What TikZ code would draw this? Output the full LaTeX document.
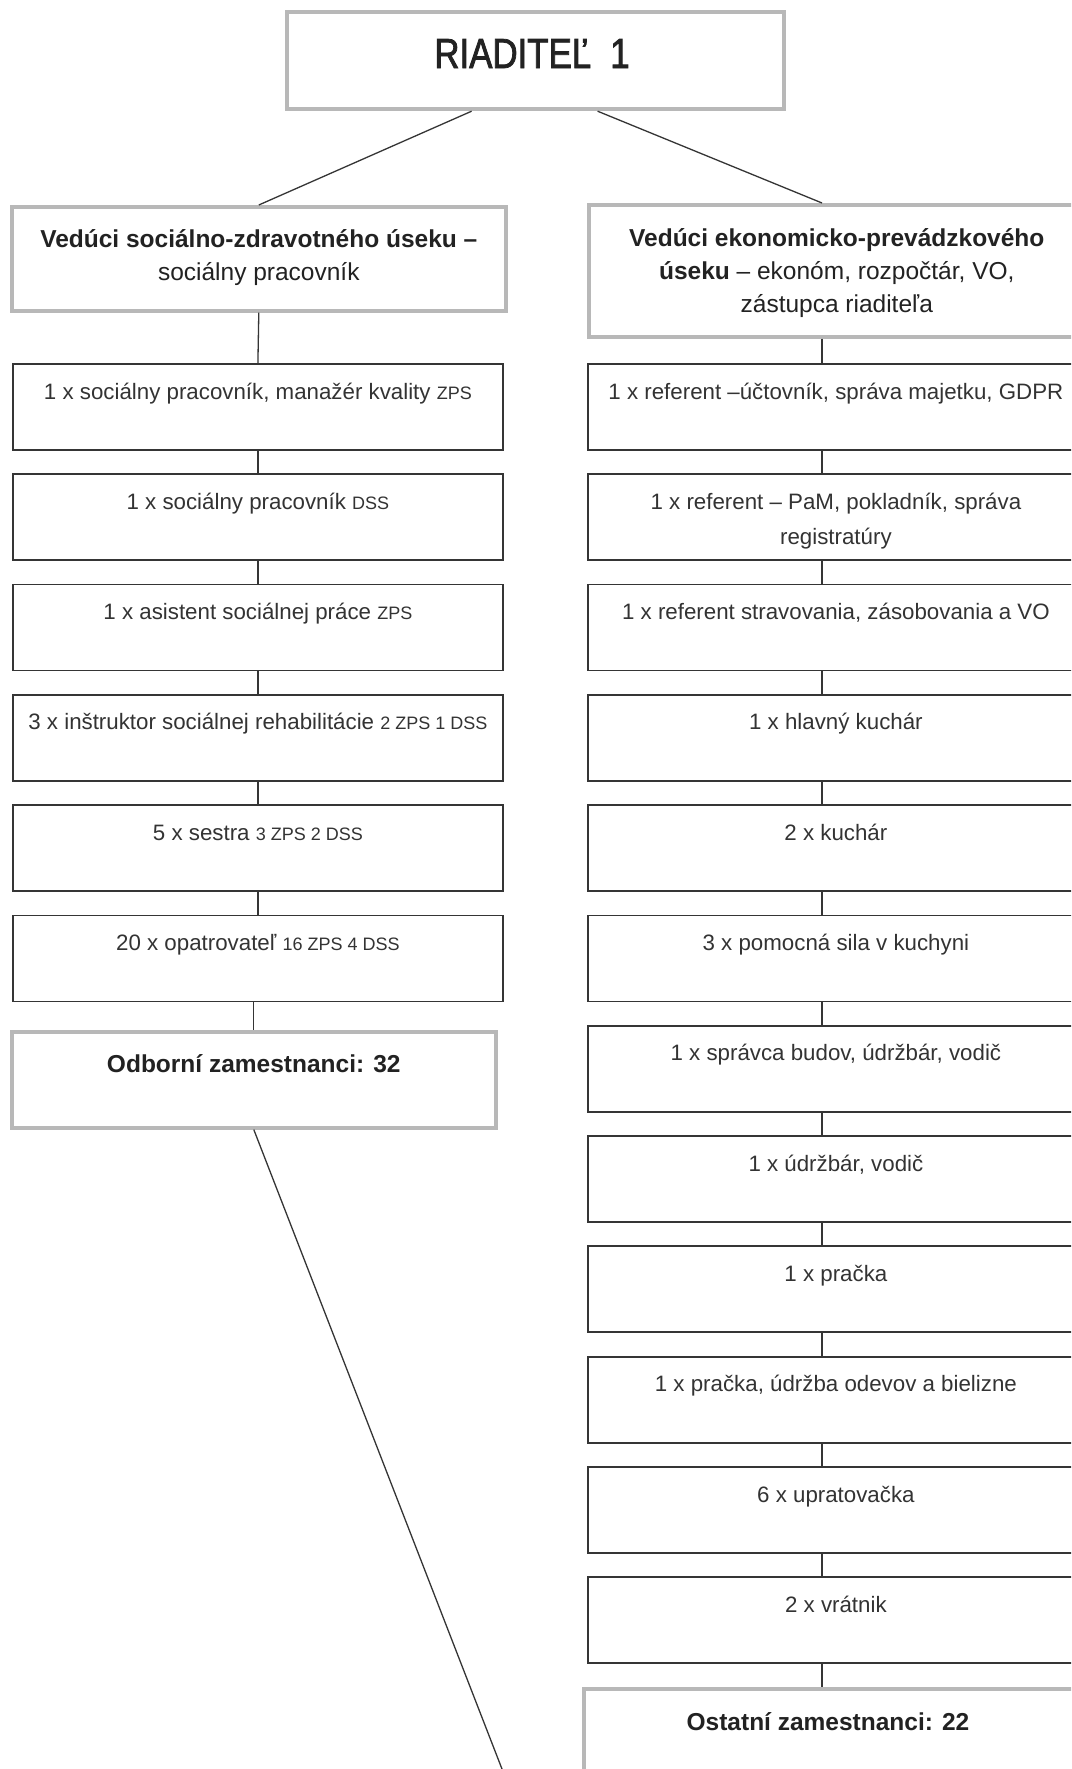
\documentclass[tikz,border=0pt]{standalone}
\usepackage{fontspec}
\setmainfont{Liberation Sans}
\newfontfamily\titlefont[FakeStretch=0.83,FakeBold=1.8]{Liberation Sans}
\usetikzlibrary{calc}
\definecolor{boxline}{HTML}{353535}
\definecolor{grayline}{HTML}{B8B8B8}
\definecolor{txt}{HTML}{333333}
\definecolor{btxt}{HTML}{222222}
\newcommand{\sm}[1]{{\fontsize{18}{18}\selectfont #1}}
\tikzset{
  regbox/.style={draw=boxline, line width=1.8pt, fill=white, minimum width=490pt, minimum height=86pt, inner sep=0pt, anchor=north west},
  rbox/.style={regbox, minimum width=496pt},
  graybox/.style={draw=grayline, line width=3.6pt, fill=white, inner sep=0pt, anchor=north west},
  regtext/.style={anchor=base, inner sep=0pt, text=txt, font=\fontsize{22.3}{35}\selectfont},
  htext/.style={anchor=base, inner sep=0pt, text=btxt, font=\fontsize{24.5}{33}\selectfont},
  conn/.style={draw=boxline, line width=1.3pt},
}
\begin{document}
\begin{tikzpicture}[x=1pt, y=-1pt]
\useasboundingbox (0,0) rectangle (1071,1769);
\clip (0,0) rectangle (1071,1769);
\fill[white] (0,0) rectangle (1071,1769);
\coordinate (rx) at (822,0);
\coordinate (dend) at (502,1769);

% top
\node[graybox, line width=4.2pt, minimum width=497pt, minimum height=97pt] (top) at (285,10) {};
\node[anchor=base, inner sep=0pt, text=btxt, font=\titlefont\fontsize{42}{42}\selectfont] (ttop) at (532,68) {RIADITEĽ\hspace{19pt}1};

% headers
\node[graybox, minimum width=494pt, minimum height=104pt] (lh) at (10,205) {};
\node[htext] (lh1) at ($(lh.north)+(0,42)$) {\textbf{Vedúci sociálno-zdravotného úseku –}};
\node[htext] (lh2) at ($(lh.north)+(0,75)$) {sociálny pracovník};

\node[graybox, minimum width=496pt, minimum height=132pt] (rh) at (587,203) {};
\node[htext] (rh1) at ($(rh.north)+(0,43)$) {\textbf{Vedúci ekonomicko-prevádzkového}};
\node[htext] (rh2) at ($(rh.north)+(0,76)$) {\textbf{úseku} – ekonóm, rozpočtár, VO,};
\node[htext] (rh3) at ($(rh.north)+(0,109)$) {zástupca riaditeľa};

\draw[conn] ([xshift=-64pt]top.south) -- (lh.north);
\draw[conn] ([xshift=62pt]top.south) -- (rh.north -| rx);

% left column
\node[regbox] (l1) at (12,363) {};
\node[regbox] (l2) at (12,473.3) {};
\node[regbox] (l3) at (12,583.6) {};
\node[regbox] (l4) at (12,693.9) {};
\node[regbox] (l5) at (12,804.2) {};
\node[regbox] (l6) at (12,914.5) {};
\node[regtext] (lt1) at ($(l1.north)+(0,36)$) {1 x sociálny pracovník, manažér kvality \sm{ZPS}};
\node[regtext] (lt2) at ($(l2.north)+(0,36)$) {1 x sociálny pracovník \sm{DSS}};
\node[regtext] (lt3) at ($(l3.north)+(0,36)$) {1 x asistent sociálnej práce \sm{ZPS}};
\node[regtext] (lt4) at ($(l4.north)+(0,36)$) {3 x inštruktor sociálnej rehabilitácie \sm{2 ZPS 1 DSS}};
\node[regtext] (lt5) at ($(l5.north)+(0,36)$) {5 x sestra \sm{3 ZPS 2 DSS}};
\node[regtext] (lt6) at ($(l6.north)+(0,36)$) {20 x opatrovateľ \sm{16 ZPS 4 DSS}};

\node[graybox, minimum width=484pt, minimum height=96pt] (odb) at (10,1030) {};
\node[htext] (odbt) at ($(odb.north)+(0,42)$) {\textbf{Odborní zamestnanci: 32}};

\draw[conn] (lh.south) -- (l1.north);
\draw[conn] (l1.south) -- (l2.north);
\draw[conn] (l2.south) -- (l3.north);
\draw[conn] (l3.south) -- (l4.north);
\draw[conn] (l4.south) -- (l5.north);
\draw[conn] (l5.south) -- (l6.north);
\draw[conn] (l6.south -| odb.north) -- (odb.north);
\draw[conn] (odb.south) -- (dend);

% right column
\node[rbox] (r1) at (587,363) {};
\node[rbox] (r2) at (587,473.3) {};
\node[rbox] (r3) at (587,583.6) {};
\node[rbox] (r4) at (587,693.9) {};
\node[rbox] (r5) at (587,804.2) {};
\node[rbox] (r6) at (587,914.5) {};
\node[rbox] (r7) at (587,1024.8) {};
\node[rbox] (r8) at (587,1135.1) {};
\node[rbox] (r9) at (587,1245.4) {};
\node[rbox] (r10) at (587,1355.7) {};
\node[rbox] (r11) at (587,1466) {};
\node[rbox] (r12) at (587,1576.3) {};
\node[regtext] (rt1) at ($(r1.north)+(0,36)$) {1 x referent –účtovník, správa majetku, GDPR};
\node[regtext] (rt2a) at ($(r2.north)+(0,36)$) {1 x referent – PaM, pokladník, správa};
\node[regtext] (rt2b) at ($(r2.north)+(0,71)$) {registratúry};
\node[regtext] (rt3) at ($(r3.north)+(0,36)$) {1 x referent stravovania, zásobovania a VO};
\node[regtext] (rt4) at ($(r4.north)+(0,36)$) {1 x hlavný kuchár};
\node[regtext] (rt5) at ($(r5.north)+(0,36)$) {2 x kuchár};
\node[regtext] (rt6) at ($(r6.north)+(0,36)$) {3 x pomocná sila v kuchyni};
\node[regtext] (rt7) at ($(r7.north)+(0,36)$) {1 x správca budov, údržbár, vodič};
\node[regtext] (rt8) at ($(r8.north)+(0,36)$) {1 x údržbár, vodič};
\node[regtext] (rt9) at ($(r9.north)+(0,36)$) {1 x pračka};
\node[regtext] (rt10) at ($(r10.north)+(0,36)$) {1 x pračka, údržba odevov a bielizne};
\node[regtext] (rt11) at ($(r11.north)+(0,36)$) {6 x upratovačka};
\node[regtext] (rt12) at ($(r12.north)+(0,36)$) {2 x vrátnik};

\node[graybox, minimum width=500pt, minimum height=150pt] (ost) at (582,1687) {};
\node[htext] (ostt) at (828,1730) {\textbf{Ostatní zamestnanci: 22}};

\draw[conn] (rh.south -| rx) -- (r1.north -| rx);
\foreach \a/\b in {r1/r2,r2/r3,r3/r4,r4/r5,r5/r6,r6/r7,r7/r8,r8/r9,r9/r10,r10/r11,r11/r12,r12/ost}
  \draw[conn] (\a.south -| rx) -- (\b.north -| rx);
\end{tikzpicture}
\end{document}
